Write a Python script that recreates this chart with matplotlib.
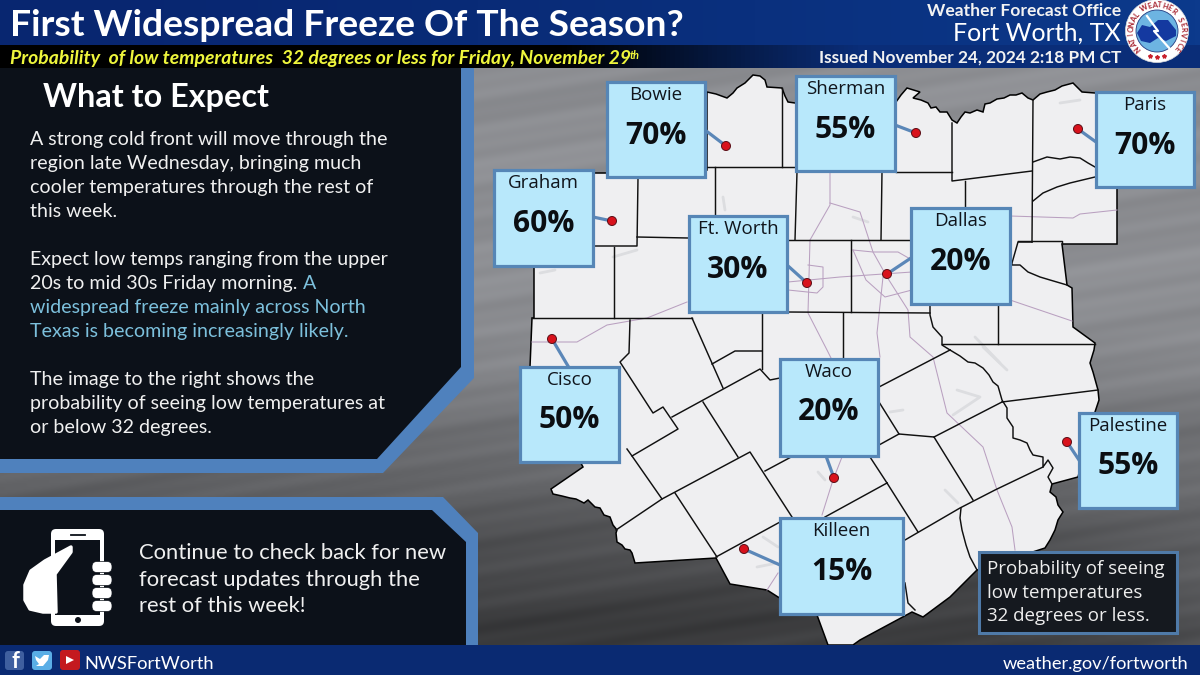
import numpy as np
import matplotlib

matplotlib.use("Agg")
import matplotlib.pyplot as plt
from matplotlib.patches import Circle, FancyBboxPatch, Polygon, Rectangle

plt.rcParams["font.family"] = ["Lato", "DejaVu Sans"]

# city values
cities = ["Bowie", "Graham", "Ft. Worth", "Sherman", "Paris", "Dallas", "Cisco", "Waco", "Killeen", "Palestine"]
freeze_pct = [70, 60, 30, 55, 70, 20, 50, 20, 15, 55]
city_xy = [(726, 146), (612, 221), (807, 283), (916, 133), (1078, 129), (887, 274), (552, 339), (834, 478), (744, 549), (1067, 442)]
box_xywh = [(607, 82, 98, 95), (494, 170, 99, 96), (689, 216, 98, 96), (796, 76, 99, 95), (1096, 92, 98, 95),
            (911, 208, 99, 96), (520, 367, 99, 95), (780, 359, 98, 97), (780, 518, 123, 96), (1079, 413, 98, 95)]
leader_end = [(705, 130), (593, 217), (787, 265), (895, 125), (1096, 142), (911, 258), (568, 366), (826, 456), (780, 565), (1079, 460)]

# map outline
region = [(707, 92), (716, 94), (727, 98), (733, 93), (737, 88), (745, 83), (753, 75), (760, 76), (765, 80), (767, 87), (782, 88),
          (785, 96), (788, 102), (795, 103), (896, 102), (901, 95), (907, 88), (920, 92), (913, 98), (921, 100), (928, 103),
          (931, 108), (936, 107), (940, 112), (947, 112), (952, 120), (957, 123), (961, 117), (965, 112), (970, 113), (977, 110),
          (983, 112), (985, 104), (990, 103), (997, 99), (1004, 98), (1010, 95), (1016, 95), (1022, 93), (1028, 98), (1033, 100),
          (1040, 94), (1047, 92), (1055, 90), (1062, 86), (1073, 83), (1078, 88), (1082, 92), (1095, 93), (1117, 100), (1117, 244),
          (1062, 244), (1067, 285), (1072, 288), (1073, 327), (1084, 335), (1095, 343), (1094, 350), (1090, 363), (1093, 372),
          (1098, 390), (1099, 400), (1095, 412), (1078, 477), (1052, 484), (1050, 492), (1056, 497), (1058, 505), (1063, 512),
          (1058, 520), (1055, 530), (1050, 540), (1045, 548), (977, 570), (950, 597), (923, 617), (912, 612), (860, 640), (853, 645),
          (828, 645), (817, 615), (778, 597), (767, 590), (730, 584), (716, 558), (635, 563), (632, 553), (630, 550), (625, 549),
          (622, 545), (617, 542), (616, 533), (617, 530), (613, 525), (610, 517), (604, 515), (600, 508), (595, 507), (591, 503),
          (588, 500), (584, 503), (576, 499), (570, 498), (562, 496), (553, 494), (551, 489), (583, 467), (530, 367), (532, 318),
          (534, 318), (534, 267), (550, 173), (607, 173), (707, 170)]
county_lines = [
    [(782, 88), (782, 167)], [(707, 167), (795, 167)], [(715, 167), (715, 217)],
    [(638, 178), (637, 246), (595, 246)], [(637, 237), (688, 238)], [(614, 247), (614, 318)], [(532, 318), (692, 318)],
    [(630, 320), (629, 353), (620, 362), (653, 413), (663, 407), (678, 429), (632, 456), (627, 449)],
    [(632, 456), (662, 499), (616, 530)], [(672, 417), (760, 369), (770, 380), (780, 378)],
    [(692, 318), (723, 388)], [(712, 364), (735, 351), (762, 351)], [(762, 313), (762, 369)],
    [(787, 312), (930, 313)], [(703, 402), (738, 457)], [(662, 499), (750, 452), (792, 517)],
    [(765, 471), (793, 456)], [(675, 493), (717, 557)], [(716, 557), (780, 522)], [(825, 517), (887, 483)],
    [(887, 483), (870, 457)], [(887, 483), (918, 532)], [(905, 540), (960, 508), (995, 490), (1043, 467)],
    [(879, 387), (950, 350)], [(879, 445), (899, 434), (934, 437), (973, 500)], [(879, 402), (899, 434)],
    [(934, 437), (1002, 402)], [(1002, 402), (1098, 390)],
    [(950, 350), (960, 356), (968, 362), (975, 363), (983, 368), (989, 375), (993, 382), (998, 386), (1002, 400), (1007, 408),
     (1007, 418), (1013, 427), (1013, 438), (1020, 440), (1027, 443), (1030, 450), (1033, 455), (1043, 457), (1043, 467),
     (1048, 460), (1053, 468), (1048, 477), (1052, 484)],
    [(961, 508), (960, 518), (962, 530), (966, 545), (970, 557), (977, 570)], [(905, 583), (908, 603), (915, 610)],
    [(896, 172), (952, 172)], [(952, 123), (952, 181), (1032, 171)], [(1033, 100), (1032, 242)], [(965, 181), (965, 207)],
    [(882, 172), (881, 240)], [(788, 240), (912, 240)], [(797, 172), (795, 240)], [(851, 240), (851, 312)],
    [(843, 313), (843, 360)], [(930, 305), (930, 315), (933, 327), (942, 337), (942, 345), (950, 350)],
    [(942, 344), (1095, 344)], [(998, 305), (998, 344)], [(1032, 242), (1018, 242), (1012, 263), (1012, 265), (1020, 265),
     (1028, 272), (1040, 277), (1050, 280), (1067, 285)], [(1018, 241), (1062, 241), (1062, 244)],
    [(1033, 162), (1047, 157), (1060, 159), (1070, 157), (1080, 158), (1088, 163), (1095, 167)],
    [(1033, 201), (1043, 193), (1057, 187), (1070, 183), (1095, 177)],
]
highways = [
    [(1010, 216), (1073, 218), (1080, 214), (1117, 210)], [(1010, 300), (1072, 321)], [(788, 282), (840, 277), (912, 272)],
    [(853, 250), (873, 252), (898, 252), (912, 260)], [(853, 250), (866, 280), (885, 297), (912, 290)],
    [(883, 277), (877, 333), (880, 357)],
    [(887, 277), (908, 310), (910, 337), (933, 357), (947, 413), (983, 447), (997, 490), (1012, 527), (1015, 550)],
    [(808, 265), (823, 267), (823, 287), (817, 293), (788, 290)], [(830, 173), (830, 205), (810, 240), (808, 313), (827, 350), (832, 360)],
    [(830, 203), (860, 212), (873, 252), (887, 277)], [(532, 342), (577, 342), (607, 325), (647, 318), (687, 302)],
    [(842, 457), (833, 480), (822, 515)], [(778, 573), (767, 590)],
]
lakes = [
    [(723, 197), (725, 210)], [(613, 257), (637, 250)], [(540, 273), (555, 270)], [(1060, 103), (1080, 100)],
    [(853, 217), (868, 222)], [(975, 337), (1000, 363)], [(957, 390), (980, 397), (953, 415)], [(983, 347), (1007, 370)],
    [(945, 490), (958, 503)], [(890, 412), (903, 410)], [(818, 472), (825, 480)], [(763, 537), (778, 547)], [(757, 567), (777, 563)],
]

expect_lines = [
    "A strong cold front will move through the", "region late Wednesday, bringing much",
    "cooler temperatures through the rest of", "this week.", "",
    "Expect low temps ranging from the upper", "20s to mid 30s Friday morning.", "", "", "",
    "The image to the right shows the", "probability of seeing low temperatures at", "or below 32 degrees.",
]
highlight_lines = [(303, 289, "A"), (30, 313, "widespread freeze mainly across North"), (30, 337, "Texas is becoming increasingly likely.")]
update_lines = ["Continue to check back for new", "forecast updates through the", "rest of this week!"]
legend_lines = ["Probability of seeing", "low temperatures", "32 degrees or less."]

BORDER = "#4f81bd"
PANEL = "#0c1119"
CYAN = "#b8e8fb"
NAVY = "#0a2a72"


def px(size):
    # text sizes are read in pixels off the image
    return size * 0.72


fig = plt.figure(figsize=(12, 6.75), dpi=100)
ax = fig.add_axes([0, 0, 1, 1])
ax.set_xlim(0, 1200)
ax.set_ylim(675, 0)
ax.axis("off")

# gray streaky backdrop
yy, xx = np.mgrid[0:675, 0:1200]
diag = yy + 0.16 * xx
bg = 142 - 82 * np.clip((yy - 330) / 290, 0, 1) + 22 * np.clip((xx - 1000) / 200, 0, 1) * np.clip((yy - 420) / 200, 0, 1)
bg = bg + 3 * np.sin(diag / 6.3) + 2 * np.sin(diag / 2.7 + 1) + 3 * np.sin(diag / 17)
bg = np.clip(bg, 0, 255) / 255
ax.imshow(np.dstack([bg * 0.99, bg, bg * 1.03]).clip(0, 1), extent=(0, 1200, 675, 0), aspect="auto", zorder=0)

# map
ax.add_patch(Polygon(region, closed=True, fc="#efeff1", ec="black", lw=1.1, zorder=1))
for lake in lakes:
    ax.plot(*zip(*lake), color="#dcdde0", lw=2, solid_capstyle="round", zorder=1.1)
for road in highways:
    ax.plot(*zip(*road), color="#b9a0c0", lw=0.75, zorder=1.2)
for line in county_lines:
    ax.plot(*zip(*line), color="#101010", lw=1.05, zorder=1.3)

# left panels
ax.add_patch(Polygon([(0, 68), (474, 68), (474, 378), (383, 473), (0, 473)], fc=BORDER, ec="none", zorder=2))
ax.add_patch(Polygon([(0, 68), (461, 68), (461, 367), (377, 459), (0, 459)], fc=PANEL, ec="none", zorder=2.1))
ax.add_patch(Polygon([(0, 497), (443, 497), (478, 533), (478, 650), (0, 650)], fc=BORDER, ec="none", zorder=2))
ax.add_patch(Polygon([(0, 510), (432, 510), (466, 542), (466, 650), (0, 650)], fc=PANEL, ec="none", zorder=2.1))

ax.text(43, 97, "What to Expect", color="white", fontsize=px(32.4), fontweight="bold", va="center", zorder=3)
for i, line in enumerate(expect_lines):
    ax.text(30, 145 + i * 24, line, color="#f0f0f0", fontsize=px(19.6), zorder=3)
for x, y, line in highlight_lines:
    ax.text(x, y, line, color="#7cc0dc", fontsize=px(19.6), zorder=3)
for i, line in enumerate(update_lines):
    ax.text(139, 559 + i * 26.5, line, color="#f0f0f0", fontsize=px(22), zorder=3)

# phone and hand icon
ax.add_patch(FancyBboxPatch((54, 532), 47, 91, boxstyle="round,pad=3,rounding_size=5", fc="white", ec="none", zorder=3))
ax.add_patch(Rectangle((55, 540), 45, 75, fc=PANEL, ec="none", zorder=3.1))
ax.add_patch(Circle((78, 620), 3, fc=PANEL, ec="none", zorder=3.2))
ax.plot([71, 85], [535, 535], color=PANEL, lw=1.3, zorder=3.2)
hand = [(71, 547), (45, 561), (31, 571), (25, 585), (25, 600), (30, 609), (43, 612), (56, 612), (55, 574), (71, 552)]
ax.add_patch(Polygon(hand, fc="white", ec="white", lw=2.5, joinstyle="round", zorder=3.3))
for y in [567, 580, 593, 606]:
    ax.add_patch(FancyBboxPatch((95, y - 2.5), 14, 5, boxstyle="round,pad=3,rounding_size=5", fc="white", ec=PANEL, lw=0.5, zorder=3.3))

# callouts
for i, city in enumerate(cities):
    ax.plot([city_xy[i][0], leader_end[i][0]], [city_xy[i][1], leader_end[i][1]], color="#5b87b8", lw=2.3, zorder=4)
    ax.add_patch(Circle(city_xy[i], 4.5, fc="#d8121c", ec="#5b1018", lw=0.7, zorder=4.1))
    x, y, w, h = box_xywh[i]
    ax.add_patch(Rectangle((x, y), w, h, fc=CYAN, ec="#5686b6", lw=2.3, zorder=5))
    ax.text(x + w / 2, y + 13, city, color="#10151c", family=["Open Sans", "DejaVu Sans"], fontsize=px(18.8), ha="center", va="center", zorder=6)
    ax.text(x + w / 2, y + 53.5, f"{freeze_pct[i]}%", color="#0b0e12", family=["Open Sans", "DejaVu Sans"], fontweight="bold",
            fontsize=px(30), ha="center", va="center", zorder=6)

# legend note
ax.add_patch(Rectangle((979, 552), 198, 81, fc="#15191f", ec="#4f7aa8", lw=2.2, zorder=5))
for i, line in enumerate(legend_lines):
    ax.text(987, 574 + i * 23.7, line, color="#eeeeee", family=["Open Sans", "DejaVu Sans"], fontsize=px(18.8), zorder=6)

# header and footer bands
band = np.zeros((2, 256, 3))
left_col = np.array([0, 0, 0]) / 255
right_col = np.array([10, 45, 120]) / 255
t = np.clip((np.linspace(0, 1200, 256) - 560) / 300, 0, 1)[:, None]
band[:] = left_col * (1 - t) + right_col * t
head = np.zeros((2, 256, 3))
t2 = (np.linspace(0, 1, 256) ** 1.5)[:, None]
head[:] = np.array([8, 38, 112]) / 255 * (1 - t2) + np.array([12, 58, 140]) / 255 * t2
ax.imshow(head, extent=(0, 1200, 45, 0), aspect="auto", zorder=7)
ax.imshow(band, extent=(0, 1200, 68, 45), aspect="auto", zorder=7)
ax.add_patch(Rectangle((0, 645), 1200, 30, fc=NAVY, ec="none", zorder=7))
ax.set_xlim(0, 1200)
ax.set_ylim(675, 0)

ax.text(10, 36, "First Widespread Freeze Of The Season?", color="white", fontsize=px(37.2), fontweight="bold", zorder=8)
ax.text(10, 64, "Probability  of low temperatures  32 degrees or less for Friday, November 29", color="#eef53c",
        fontsize=px(19.4), fontweight="bold", fontstyle="italic", zorder=8)
ax.text(630, 59, "th", color="#eef53c", fontsize=px(11), fontweight="bold", fontstyle="italic", zorder=8)
ax.text(1121, 16, "Weather Forecast Office", color="#f2f2f2", fontsize=px(17.5), fontweight="bold", ha="right", zorder=8)
ax.text(1121, 41, "Fort Worth, TX", color="white", fontsize=px(25), ha="right", zorder=8)
ax.text(1121, 63, "Issued November 24, 2024 2:18 PM CT", color="#f2f2f2", fontsize=px(17.3), fontweight="bold", ha="right", zorder=8)

# NWS seal
seal = (1157, 31)
ax.add_patch(Circle(seal, 31.5, fc="white", ec="#dddddd", lw=0.5, zorder=8))
ax.add_patch(Circle(seal, 21, fc="#6db4e2", ec="#223a80", lw=0.6, zorder=8.1))
blob = [(1137, 33), (1142, 25), (1150, 27), (1158, 20), (1168, 20), (1176, 30), (1176, 36), (1166, 41), (1158, 38), (1150, 43), (1141, 41)]
ax.add_patch(Polygon(blob, fc="#1439a0", ec="none", zorder=8.2))
ax.plot([1147, 1158, 1154, 1170], [16, 31, 31, 49], color="white", lw=1.6, zorder=8.3)
seal_text = "NATIONAL WEATHER SERVICE"
for ch, ang in zip(seal_text, np.linspace(222, -42, len(seal_text))):
    r = np.deg2rad(ang)
    ax.text(seal[0] + 26 * np.cos(r), seal[1] - 26 * np.sin(r), ch, color="#a5202c", fontsize=px(7.5), fontweight="bold",
            ha="center", va="center", rotation=ang - 90, zorder=8.4)
for ang in [255, 270, 285]:
    r = np.deg2rad(ang)
    ax.plot(seal[0] + 26 * np.cos(r), seal[1] - 26 * np.sin(r), marker="*", color="#c8202c", ms=3, zorder=8.4)

# social icons and footer text
ax.add_patch(FancyBboxPatch((5, 651), 19, 19, boxstyle="round,pad=0,rounding_size=3", fc="#3f5f9f", ec="none", zorder=8))
ax.text(15, 661, "f", color="white", fontsize=px(22), fontweight="bold", ha="center", va="center", zorder=9)
ax.add_patch(FancyBboxPatch((32, 651), 20, 19, boxstyle="round,pad=0,rounding_size=3", fc="#5aaee6", ec="none", zorder=8))
bird = [(35, 656), (40, 659), (44, 655), (49, 655), (48, 660), (43, 666), (36, 666), (39, 664), (36, 660)]
ax.add_patch(Polygon(bird, fc="white", ec="none", zorder=9))
ax.add_patch(FancyBboxPatch((60, 650), 20, 20, boxstyle="round,pad=0,rounding_size=3", fc="#c41a1f", ec="none", zorder=8))
ax.add_patch(Polygon([(66, 656), (66, 664), (74, 660)], fc="white", ec="none", zorder=9))
ax.text(84, 669, "NWSFortWorth", color="white", fontsize=px(18.4), zorder=9)
ax.text(1188, 669, "weather.gov/fortworth", color="white", fontsize=px(18.3), ha="right", zorder=9)

fig.savefig("out.png", dpi=100)
